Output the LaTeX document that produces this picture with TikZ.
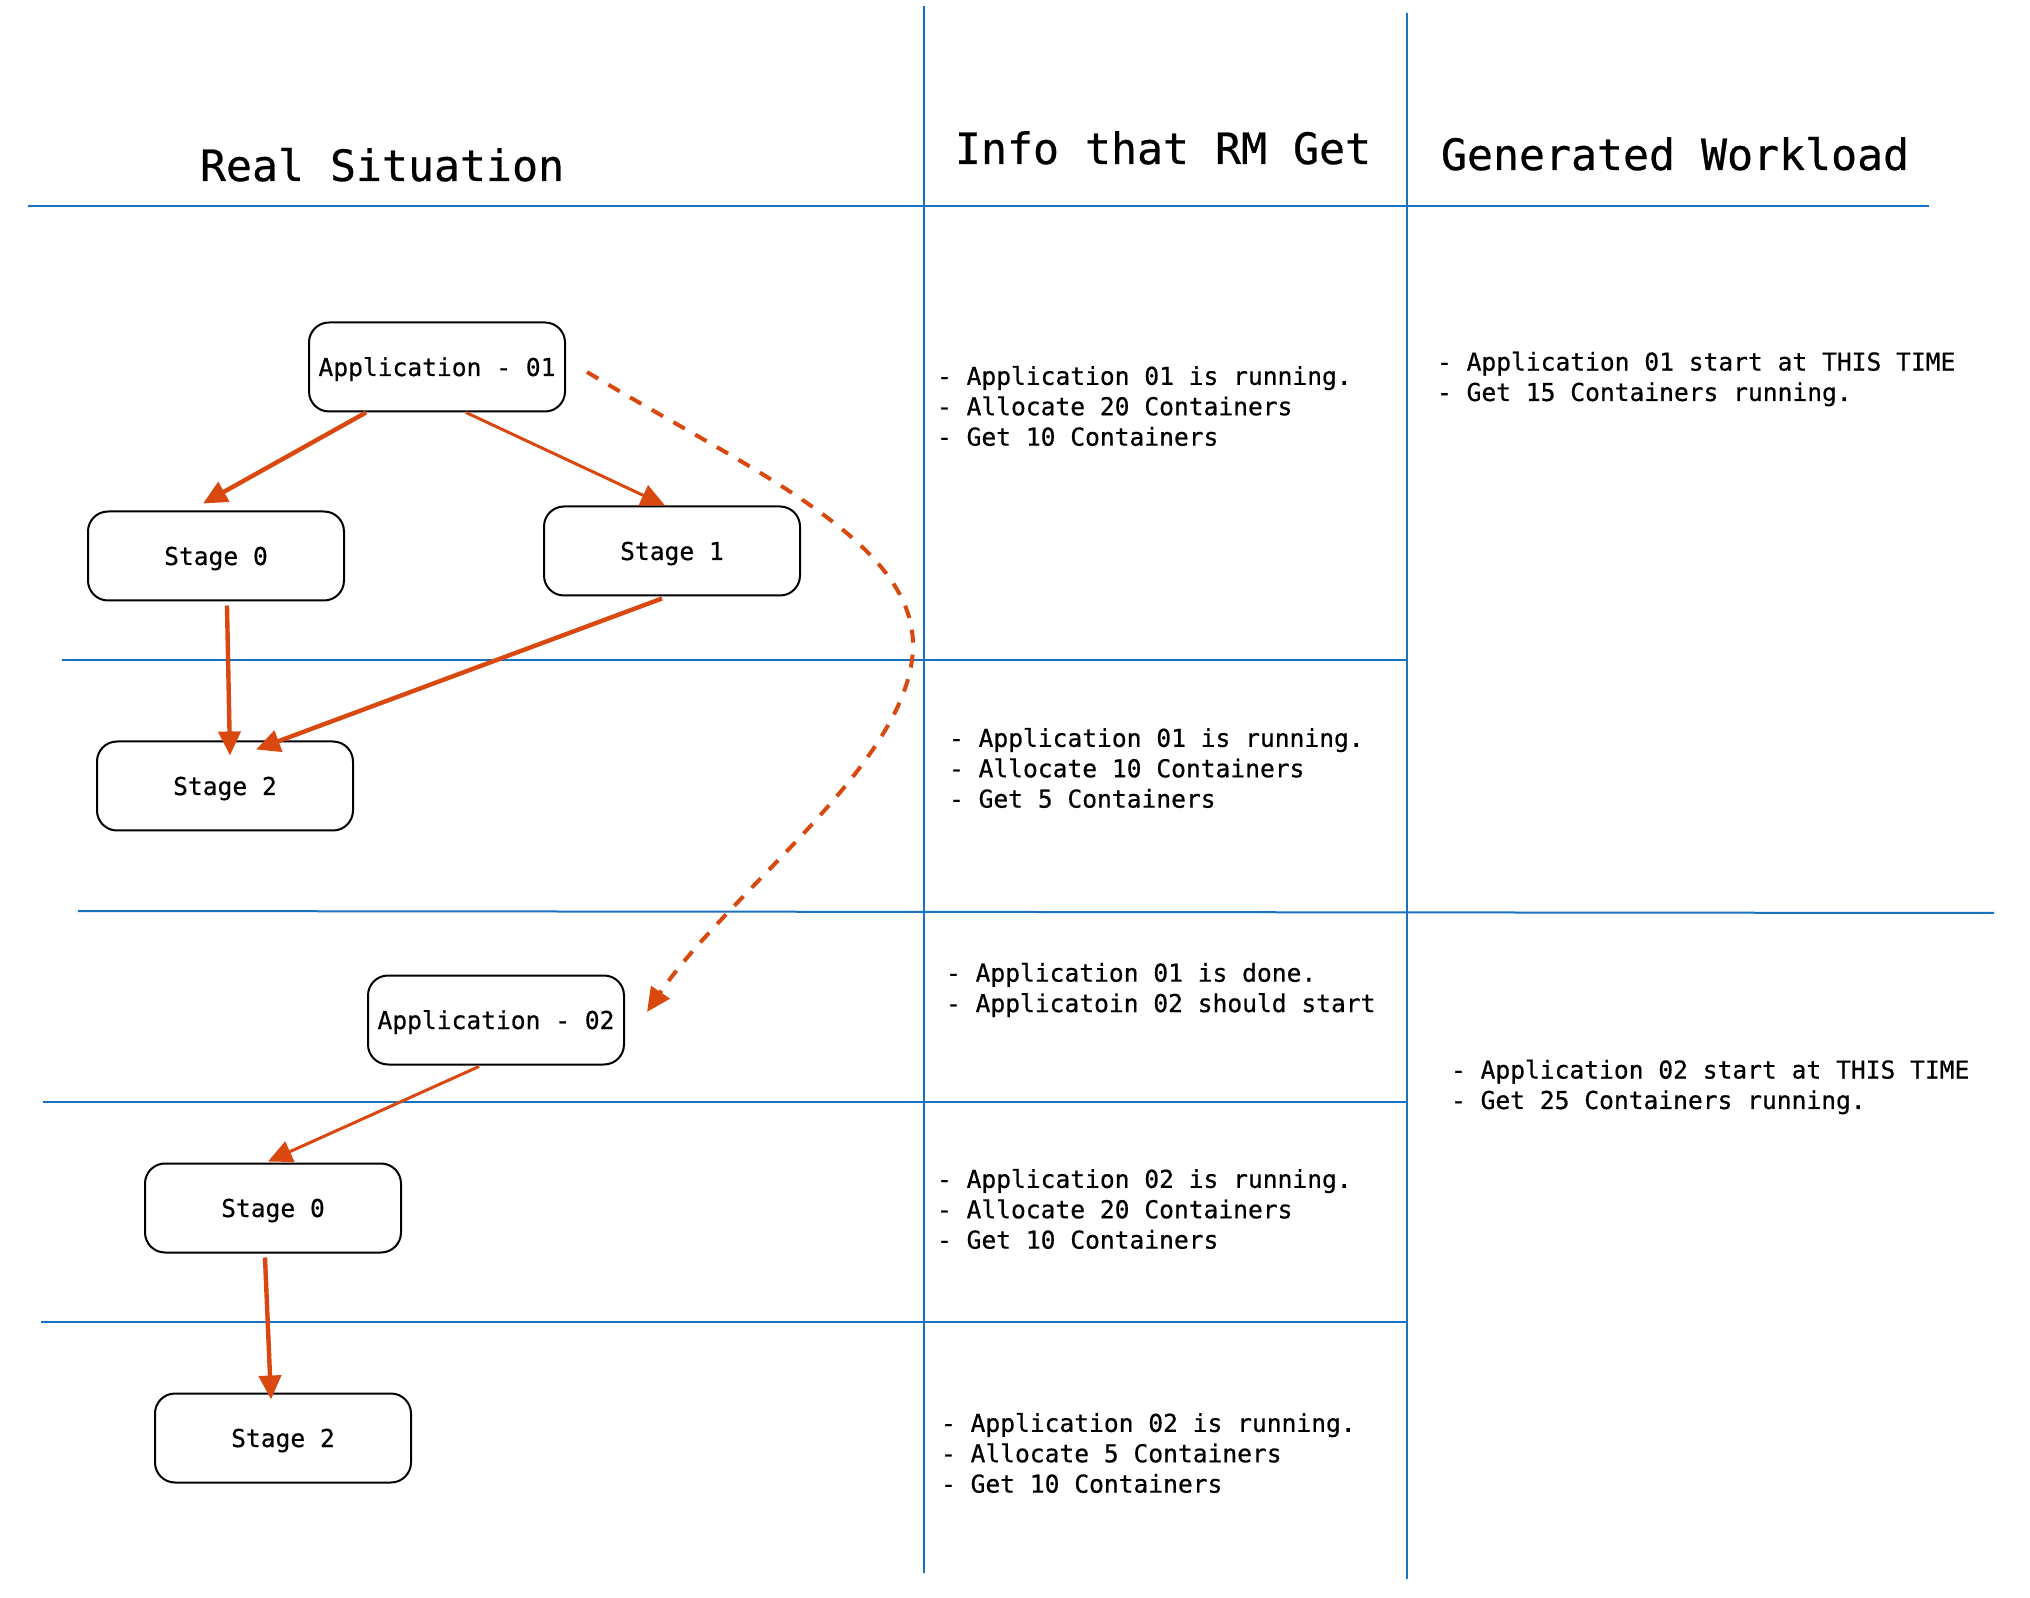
\documentclass[tikz,border=0pt]{standalone}
\usepackage{fontspec}
\newfontfamily\sketchfont[FakeBold=0.6]{DejaVu Sans Mono}
\usetikzlibrary{arrows.meta,calc}

\definecolor{gridblue}{RGB}{25,113,194}
\definecolor{flowred}{RGB}{217,72,15}

\tikzset{every picture/.style={line width=1pt}}
\tikzset{
  stagebox/.style={draw=black, line width=1pt, rounded corners=10pt, minimum width=128pt, minimum height=44.5pt, inner sep=0pt, text height=9pt, text depth=0pt, font=\sketchfont\fontsize{12.3}{15.2}\selectfont},
  heading/.style={anchor=base west, inner sep=0pt, font=\sketchfont\fontsize{21.6}{26}\selectfont},
  notes/.style={anchor=west, align=left, inner sep=0pt, font=\sketchfont\fontsize{12.3}{15.2}\selectfont},
  gridline/.style={draw=gridblue, line width=1pt},
  flow/.style={draw=flowred, line width=2.2pt, -{Triangle[length=12pt,width=11pt]}},
  flowthin/.style={flow, line width=1.5pt},
}

\begin{document}
\begin{tikzpicture}[x=0.5pt,y=0.5pt,yscale=-1,xscale=1]
\useasboundingbox (0,0) rectangle (2030,1598);

%Straight Lines
\draw [gridline] (924,6) -- (924,1573) ;
%Straight Lines
\draw [gridline] (1407,13) -- (1407,1579) ;
%Straight Lines
\draw [gridline] (28,206) -- (1929,206) ;
%Straight Lines
\draw [gridline] (62,660) -- (1407,660) ;
%Straight Lines
\draw [gridline] (78,911) -- (1994,913) ;
%Straight Lines
\draw [gridline] (43,1102) -- (1407,1102) ;
%Straight Lines
\draw [gridline] (41,1322) -- (1407,1322) ;

% Headings
\node [heading] (hreal) at (199,181) {Real Situation};
\node [heading] (hinfo) at (954,164) {Info that RM Get};
\node [heading] (hgen) at (1440,170) {Generated Workload};

% Boxes
\node [stagebox] (app01) at (437,367) {Application - 01};
\node [stagebox] (st0a) at (216,556) {Stage 0};
\node [stagebox] (st1a) at (672,551) {Stage 1};
\node [stagebox] (st2a) at (225,786) {Stage 2};
\node [stagebox] (app02) at (496,1020) {Application - 02};
\node [stagebox] (st0b) at (273,1208) {Stage 0};
\node [stagebox] (st2b) at (283,1438) {Stage 2};

% Arrows
\draw [flow] ($(app01.south)+(-71,0)$) -- ($(st0a.north)+(-13,-7)$) ;
\draw [flowthin] ($(app01.south)+(29,0)$) -- ($(st1a.north)+(-7,0)$) ;
\draw [flow] ($(st0a.south)+(11,4)$) -- ($(st2a.north)+(5,15)$) ;
\draw [flow] ($(st1a.south)+(-10,2)$) -- ($(st2a.north)+(31,9)$) ;
\draw [flowthin] ($(app02.south)+(-17,1)$) -- ($(st0b.north)+(-5,-1)$) ;
\draw [flow] ($(st0b.south)+(-8,4)$) -- ($(st2b.north)+(-12,7)$) ;

%Curve Lines
\coordinate (dstart) at ($(app01.east)+(21,5)$);
\coordinate (dend) at ($(app02.east)+(22,-8)$);
\draw [flowthin, line width=2pt, dash pattern=on 6.5pt off 6pt] (dstart) .. controls (750,470) and (913,540) .. (913,645) .. controls (913,760) and (730,890) .. (dend) ;

% Text Node
\node [notes] (infoA) at (936,406) {- Application 01 is running.\\- Allocate 20 Containers\\- Get 10 Containers};
% Text Node
\node [notes] (infoB) at (948,768) {- Application 01 is running.\\- Allocate 10 Containers\\- Get 5 Containers};
% Text Node
\node [notes] (infoC) at (945,990) {- Application 01 is done.\\- Applicatoin 02 should start};
% Text Node
\node [notes] (infoD) at (936,1209) {- Application 02 is running.\\- Allocate 20 Containers\\- Get 10 Containers};
% Text Node
\node [notes] (infoE) at (940,1453) {- Application 02 is running.\\- Allocate 5 Containers\\- Get 10 Containers};
% Text Node
\node [notes] (genA) at (1436,379) {- Application 01 start at THIS TIME\\- Get 15 Containers running.};
% Text Node
\node [notes] (genB) at (1450,1087) {- Application 02 start at THIS TIME\\- Get 25 Containers running.};

\end{tikzpicture}
\end{document}
